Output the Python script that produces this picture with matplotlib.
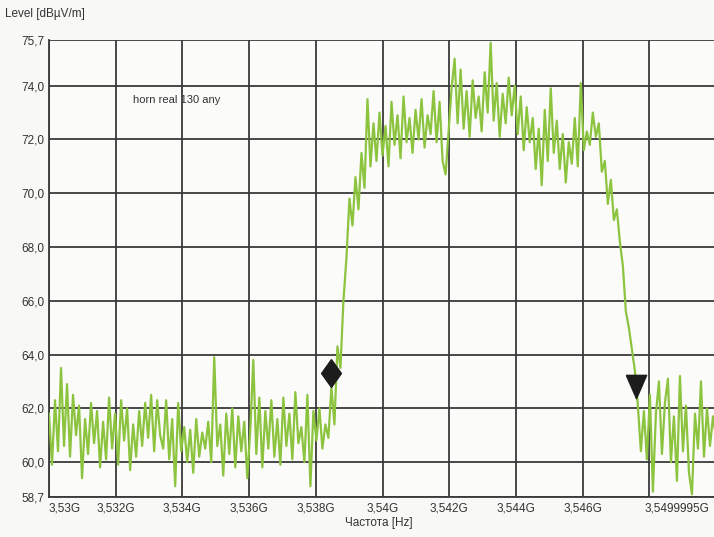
import numpy as np
import matplotlib.pyplot as plt
import matplotlib.transforms as mtransforms
from matplotlib.ticker import FixedLocator, FixedFormatter

# ============================================================
# DATA
# ============================================================

F_START = 3.53
F_STOP = 3.5499995

level_baseline_left = [
    61.8, 59.9, 62.3, 60.4, 63.5, 60.6, 62.9, 60.2, 62.5, 61.0,
    62.1, 59.4, 61.6, 60.3, 62.2, 60.7, 61.9, 59.8, 61.5, 60.1,
    62.4, 60.5, 61.8, 59.9, 62.3, 60.8, 62.0, 59.7, 61.4, 60.2,
    61.9, 60.6, 62.2, 60.9, 62.5, 60.4, 62.3, 61.0, 60.5, 62.3,
    60.1, 61.6, 59.1, 62.2, 60.4, 61.3, 60.0, 61.2, 59.6, 61.6,
    60.2, 61.1, 60.5, 61.5, 60.0, 63.9, 60.6, 61.4, 59.5, 61.8,
    60.3, 62.0, 59.8, 61.7, 60.4, 61.5, 59.4, 61.2, 63.8, 60.3,
    62.4, 59.8, 61.9, 60.5, 62.3, 60.2, 61.6, 59.9, 62.4, 60.6,
    61.8, 60.1, 62.6, 60.7, 61.3, 60.0, 62.5, 59.1, 61.9, 60.8,
    62.0, 60.5, 61.4, 60.9,
]

level_rise = [
    62.8, 61.4, 64.3, 63.5, 66.0, 67.6, 69.8, 68.8, 70.6, 69.4,
    71.5, 70.2, 73.5, 71.0,
]

level_plateau = [
    72.6, 71.2, 73.0, 71.4, 72.5, 71.0, 73.4, 71.8, 72.9, 71.3,
    73.6, 71.9, 72.8, 71.5, 73.1, 72.0, 73.5, 71.7, 72.9, 72.2,
    73.8, 71.9, 73.4, 71.2, 70.7, 72.3, 73.9, 75.0, 72.6, 74.6,
    72.4, 73.8, 72.1, 74.2, 72.8, 73.6, 72.3, 74.5, 73.0, 75.6,
    72.7, 74.1, 72.1, 73.7, 72.6, 74.3, 72.9, 74.0, 72.2, 73.6,
    71.6, 73.2, 71.9, 72.8, 70.9, 72.4, 70.3, 73.1, 71.2, 73.9,
    71.5, 72.7, 70.9, 72.2, 70.4, 71.9, 71.1, 72.8, 71.0, 74.1,
    71.6, 72.3, 71.8, 73.0, 72.1,
]

level_fall = [
    72.6, 70.8, 71.2, 69.6, 70.5, 69.0, 69.4, 68.2, 67.3, 65.6,
    65.0, 64.2, 63.4, 62.1,
]

level_baseline_right = [
    60.4, 61.9, 60.1, 62.5, 58.9, 61.8, 63.0, 60.3, 62.2, 63.1,
    60.0, 61.7, 59.3, 63.2, 60.4, 62.1, 59.6, 58.8, 61.8, 60.5,
    63.0, 60.2, 62.0, 60.6, 61.7, 60.9,
]

# markers (freq GHz, level)
marker1 = (3.53846, 63.3)
marker2 = (3.54760, 62.85)

y_ticks = [58.7, 60.0, 62.0, 64.0, 66.0, 68.0, 70.0, 72.0, 74.0, 75.7]
y_labels = ["58,7", "60,0", "62,0", "64,0", "66,0", "68,0", "70,0",
            "72,0", "74,0", "75,7"]

x_ticks = [3.530, 3.532, 3.534, 3.536, 3.538, 3.540, 3.542, 3.544,
           3.546, 3.548, 3.5499995]
x_labels = ["3,53G", "3,532G", "3,534G", "3,536G", "3,538G", "3,54G",
            "3,542G", "3,544G", "3,546G", "", "3,5499995G"]

level = np.array(
    level_baseline_left + level_rise + level_plateau
    + level_fall + level_baseline_right
)
freq = np.linspace(F_START, F_STOP, len(level))

# ============================================================
# PLOT
# ============================================================

plt.rcParams["font.family"] = ["Liberation Sans", "DejaVu Sans"]

fig = plt.figure(figsize=(7.14, 5.37), dpi=100, facecolor="#f8f8f6")

W, H = 714, 537
ax = fig.add_axes([49 / W, 40 / H, 667 / W, 457 / H])
ax.set_facecolor("#fbfbfa")

ax.plot(freq, level, color="#8cc43f", linewidth=1.6, zorder=3)

diamond = [(0, 1.4), (1, 0), (0, -1.4), (-1, 0), (0, 1.4)]
tri = [(-1, 1), (1, 1), (0, -1.3), (-1, 1)]

ax.plot(*marker1, marker=diamond, markersize=20, color="#1c1c1c",
        linestyle="none", zorder=5)
ax.plot(*marker2, marker=tri, markersize=19, color="#1c1c1c",
        linestyle="none", zorder=5)

ax.set_xlim(F_START, F_STOP)
ax.set_ylim(58.7, 75.7)

ax.xaxis.set_major_locator(FixedLocator(x_ticks))
ax.xaxis.set_major_formatter(FixedFormatter(x_labels))
ax.yaxis.set_major_locator(FixedLocator(y_ticks))
ax.yaxis.set_major_formatter(FixedFormatter(y_labels))

ax.grid(True, color="#3a3a3a", linewidth=1.3)
ax.set_axisbelow(True)

ax.tick_params(axis="both", length=0, labelsize=8.5, labelcolor="#333333")
ax.tick_params(axis="x", pad=4)
ax.tick_params(axis="y", pad=3)

xt = ax.get_xticklabels()
xt[0].set_horizontalalignment("left")
xt[-1].set_horizontalalignment("right")
xt[-1].set_transform(
    xt[-1].get_transform()
    + mtransforms.ScaledTranslation(-5 / 72, 0, fig.dpi_scale_trans)
)

for side in ["top", "right"]:
    ax.spines[side].set_visible(False)
for side in ["left", "bottom"]:
    ax.spines[side].set_color("#3a3a3a")
    ax.spines[side].set_linewidth(1.3)

ax.text(0.126, 0.868, "horn real 130 any", transform=ax.transAxes,
        fontsize=8, color="#333333", va="center", ha="left")

fig.text(5 / W, 1 - 14 / H, "Level [dBµV/m]", fontsize=8.5,
         color="#333333", va="center", ha="left")
fig.text(345 / W, 1 - 523 / H, "Частота [Hz]", fontsize=8.5,
         color="#333333", va="center", ha="left")

plt.savefig("out.png", dpi=100, facecolor=fig.get_facecolor())
plt.close()
